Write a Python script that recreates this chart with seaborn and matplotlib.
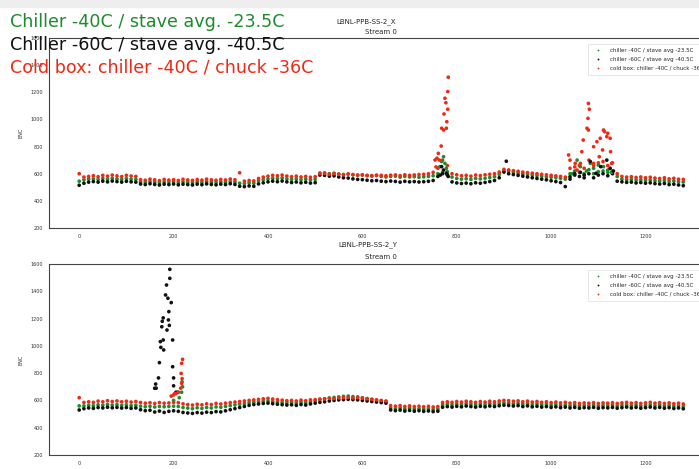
import numpy as np
import pandas as pd
import matplotlib
matplotlib.use("Agg")
import matplotlib.pyplot as plt
import seaborn as sns

sns.set_style("white")
plt.rcParams['font.family'] = ['DejaVu Sans']

# ---------------- data ----------------
channels = list(range(0, 1290, 10))

labels = ["chiller -40C / stave avg -23.5C",
          "chiller -60C / stave avg -40.5C",
          "cold box: chiller -40C / chuck -36C"]

# Panel X (LBNL-PPB-SS-2_X), baseline every 10 channels
x_green = [545, 555, 560, 562, 558, 565, 560, 566, 562, 558,
           564, 560, 558, 540, 536, 542, 538, 534, 540, 537,
           541, 535, 540, 537, 534, 540, 536, 542, 538, 535,
           540, 537, 543, 538, 530, 528, 532, 530, 548, 556,
           562, 566, 563, 568, 562, 558, 562, 556, 560, 555,
           558, 605, 606, 600, 604, 598, 594, 598, 592, 588,
           590, 585, 582, 586, 580, 576, 580, 582, 575, 580,
           576, 578, 574, 577, 580, 585, 600, 610, 600, 575,
           565, 560, 563, 558, 565, 562, 567, 572, 578, 595,
           625, 620, 612, 606, 600, 595, 590, 586, 582, 578,
           574, 570, 566, 560, 600, 620, 610, 600, 630, 600,
           615, 620, 610, 620, 580, 560, 556, 558, 553, 556,
           551, 554, 549, 546, 550, 543, 546, 541, 539]
x_black = [515, 530, 538, 542, 538, 545, 540, 546, 542, 538,
           544, 540, 538, 524, 520, 526, 521, 517, 523, 520,
           524, 518, 523, 520, 517, 523, 519, 525, 521, 518,
           523, 520, 526, 521, 508, 505, 510, 507, 525, 533,
           540, 545, 541, 546, 540, 535, 539, 533, 537, 531,
           534, 590, 588, 582, 584, 576, 570, 568, 562, 558,
           556, 552, 548, 550, 545, 542, 546, 543, 538, 544,
           540, 542, 539, 541, 544, 550, 580, 600, 590, 540,
           532, 528, 531, 526, 533, 530, 536, 542, 550, 570,
           612, 600, 594, 588, 582, 576, 570, 565, 560, 555,
           548, 542, 535, 505, 560, 590, 580, 570, 600, 570,
           590, 600, 585, 600, 545, 540, 536, 538, 532, 535,
           530, 533, 527, 524, 528, 520, 523, 517, 512]
x_red = [600, 575, 580, 585, 578, 588, 582, 590, 584, 579,
         588, 583, 580, 556, 552, 560, 555, 549, 558, 553,
         556, 550, 559, 554, 551, 557, 553, 560, 555, 552,
         558, 554, 561, 556, 607, 545, 550, 547, 565, 575,
         582, 588, 585, 590, 583, 578, 582, 576, 580, 574,
         578, 600, 602, 596, 600, 596, 593, 598, 594, 590,
         592, 588, 586, 590, 588, 585, 589, 591, 586, 592,
         588, 591, 594, 596, 600, 610, 640, 700, 660, 600,
         592, 585, 588, 582, 590, 586, 592, 596, 600, 612,
         632, 628, 622, 618, 612, 608, 604, 600, 596, 592,
         588, 584, 580, 575, 640, 650, 660, 640, 700, 660,
         680, 690, 660, 680, 600, 580, 575, 578, 572, 576,
         570, 574, 568, 565, 570, 562, 566, 560, 558]

# Panel X, scattered points in the noisy regions
x_pk_ch_green = [764, 768, 772, 775, 778, 780, 1045, 1055, 1062, 1075, 1083, 1090, 1100, 1111, 1120, 1128]
x_pk_green = [652, 690, 725, 676, 640, 615, 600, 700, 652, 620, 676, 640, 664, 652, 627, 610]
x_pk_ch_black = [765, 768, 772, 778, 782, 905, 1040, 1050, 1062, 1070, 1083, 1095, 1105, 1118, 1125, 1132]
x_pk_black = [590, 652, 627, 603, 580, 692, 578, 600, 610, 590, 690, 603, 652, 700, 640, 620]
x_pk_ch_red = [754, 756, 758, 761, 763, 767, 768, 772, 773, 775, 777, 778, 779, 781, 781, 782,
               1037, 1040, 1051, 1055, 1062, 1065, 1068, 1076, 1078, 1079, 1079, 1081, 1090,
               1090, 1097, 1102, 1104, 1109, 1111, 1113, 1118, 1120, 1125, 1126, 1128]
x_pk_red = [701, 650, 714, 750, 701, 804, 935, 922, 1040, 1156, 1123, 935, 983, 1205, 1075, 1311,
            738, 700, 676, 627, 676, 762, 848, 935, 1008, 1118, 922, 1075, 799,
            676, 836, 725, 861, 775, 922, 910, 873, 898, 861, 762, 676]

# Panel Y (LBNL-PPB-SS-2_Y), baseline every 10 channels
y_red = [620, 585, 590, 586, 595, 590, 598, 592, 596, 590,
         594, 588, 592, 585, 580, 583, 578, 584, 580, 582,
         586, 584, 575, 570, 566, 572, 568, 575, 570, 578,
         574, 580, 584, 588, 592, 596, 600, 604, 608, 612,
         615, 610, 606, 602, 598, 600, 596, 602, 598, 604,
         606, 610, 612, 616, 614, 618, 620, 622, 618, 620,
         616, 612, 608, 604, 600, 596, 562, 558, 562, 556,
         560, 555, 558, 554, 557, 552, 555, 585, 590, 586,
         592, 588, 594, 590, 586, 592, 588, 594, 590, 596,
         600, 598, 594, 597, 590, 595, 588, 592, 586, 590,
         584, 588, 582, 586, 580, 584, 578, 582, 580, 584,
         578, 582, 580, 584, 578, 582, 586, 580, 584, 578,
         582, 586, 580, 584, 578, 582, 576, 580, 574]
y_green = [560, 560, 565, 562, 568, 565, 570, 566, 569, 564,
           568, 562, 565, 558, 554, 557, 552, 556, 554, 556,
           558, 556, 548, 544, 540, 546, 542, 548, 545, 552,
           550, 556, 562, 567, 572, 577, 582, 587, 590, 594,
           596, 592, 588, 585, 582, 584, 580, 586, 582, 590,
           598, 606, 612, 618, 622, 626, 630, 632, 628, 626,
           620, 614, 608, 602, 596, 590, 545, 540, 544, 538,
           542, 537, 540, 536, 539, 534, 537, 568, 572, 568,
           574, 570, 576, 572, 568, 574, 570, 576, 572, 578,
           582, 580, 576, 579, 572, 577, 570, 574, 568, 572,
           566, 570, 564, 568, 562, 566, 560, 564, 562, 566,
           560, 564, 562, 566, 560, 564, 568, 562, 566, 560,
           564, 568, 562, 566, 560, 564, 558, 562, 556]
y_black = [530, 540, 545, 542, 548, 545, 550, 546, 549, 544,
           548, 542, 545, 532, 525, 528, 515, 522, 512, 520,
           524, 520, 512, 508, 505, 511, 507, 514, 511, 518,
           516, 524, 532, 540, 548, 556, 564, 570, 574, 578,
           580, 576, 572, 569, 566, 568, 564, 570, 566, 574,
           580, 586, 590, 596, 600, 604, 606, 608, 606, 604,
           600, 596, 592, 588, 584, 580, 530, 525, 529, 522,
           527, 521, 525, 520, 523, 518, 521, 550, 555, 551,
           557, 553, 559, 555, 551, 557, 553, 559, 555, 561,
           565, 563, 559, 562, 555, 560, 553, 557, 551, 555,
           549, 553, 547, 551, 545, 549, 543, 547, 545, 549,
           543, 547, 545, 549, 543, 547, 551, 545, 549, 543,
           547, 551, 545, 549, 543, 547, 541, 545, 539]

# Panel Y, scattered points of the noisy region
y_pk_ch_black = [160, 162, 163, 168, 170, 172, 173, 175, 176, 178, 178, 179, 183, 185,
                 186, 188, 189, 190, 191, 192, 192, 195, 198, 198, 200, 200, 205, 209]
y_pk_black = [689, 720, 690, 765, 877, 1031, 989, 1140, 1180, 1205, 1043, 970, 1373, 1446,
              1116, 1349, 1190, 1251, 1150, 1495, 1561, 1317, 1043, 847, 765, 707, 660, 660]
y_pk_ch_red = [195, 200, 202, 205, 210, 215, 216, 217, 217, 218, 219]
y_pk_red = [632, 640, 650, 650, 660, 690, 798, 872, 725, 760, 901]
y_pk_ch_green = [200, 212, 217, 218, 219]
y_pk_green = [600, 620, 660, 737, 700]

colors = ["#1f8a2e", "#111111", "#ee2a16"]


def build(base, peaks):
    frames = []
    for lab, vals in zip(labels, base):
        frames.append(pd.DataFrame({"Channel": channels, "ENC": vals, "series": lab}))
    for lab, (chs, vals) in zip(labels, peaks):
        frames.append(pd.DataFrame({"Channel": chs, "ENC": vals, "series": lab}))
    return pd.concat(frames, ignore_index=True)


df_x = build([x_green, x_black, x_red],
             [(x_pk_ch_green, x_pk_green), (x_pk_ch_black, x_pk_black), (x_pk_ch_red, x_pk_red)])
df_y = build([y_green, y_black, y_red],
             [(y_pk_ch_green, y_pk_green), (y_pk_ch_black, y_pk_black), (y_pk_ch_red, y_pk_red)])

# ---------------- figure ----------------
W, H = 699, 469
fig = plt.figure(figsize=(W / 100, H / 100), dpi=100)


def px_axes(left, top, right, bottom):
    return fig.add_axes([left / W, 1 - bottom / H, (right - left) / W, (bottom - top) / H])


ax1 = px_axes(49, 38, 713, 228)
ax2 = px_axes(49, 264, 713, 455)

palette = dict(zip(labels, colors))
for ax, df in [(ax1, df_x), (ax2, df_y)]:
    sns.scatterplot(data=df, x="Channel", y="ENC", hue="series", hue_order=labels,
                    palette=palette, s=7, linewidth=0, marker="o", ax=ax)
    ax.set_xlim(-64, 1343)
    ax.set_ylim(200, 1600)
    ax.set_xticks(range(0, 1400, 200))
    ax.set_yticks(range(200, 1800, 200))
    ax.tick_params(labelsize=3.5, length=2.2, width=0.6, pad=2, colors="#333333")
    for sp in ax.spines.values():
        sp.set_color("#444444")
        sp.set_linewidth(0.8)
    ax.set_ylabel("ENC", fontsize=3.6, labelpad=5)
    leg = ax.legend(loc="upper right", fontsize=4.0, frameon=True, markerscale=0.5,
                    handletextpad=1.2, borderpad=0.8, labelspacing=0.7,
                    bbox_to_anchor=(0.997, 0.985))
    leg.get_frame().set_linewidth(0.4)
    leg.get_frame().set_edgecolor("#cccccc")
    leg.get_frame().set_boxstyle("square", pad=0)

ax1.set_xlabel("")
ax2.set_xlabel("Channel", fontsize=3.6, labelpad=3)

# titles
fig.text(366 / W, 1 - 23 / H, "LBNL-PPB-SS-2_X", ha="center", va="baseline", fontsize=5)
fig.text(381 / W, 1 - 34 / H, "Stream 0", ha="center", va="baseline", fontsize=5)
fig.text(368 / W, 1 - 246 / H, "LBNL-PPB-SS-2_Y", ha="center", va="baseline", fontsize=5)
fig.text(381 / W, 1 - 259 / H, "Stream 0", ha="center", va="baseline", fontsize=5)

# top gray band of the screenshot
fig.patches.append(plt.Rectangle((0, 1 - 7 / H), 1, 7 / H, transform=fig.transFigure,
                                 color="#eeeeee", zorder=0))

# overlay annotations
fig.text(10 / W, 1 - 27 / H, "Chiller -40C / stave avg. -23.5C", color="#1f8a2e",
         fontsize=12.6, va="baseline", ha="left")
fig.text(10 / W, 1 - 50 / H, "Chiller -60C / stave avg. -40.5C", color="#111111",
         fontsize=12.6, va="baseline", ha="left")
fig.text(10 / W, 1 - 72 / H, "Cold box: chiller -40C / chuck -36C", color="#ee2a16",
         fontsize=12.6, va="baseline", ha="left")

fig.savefig("out.png", dpi=100)
